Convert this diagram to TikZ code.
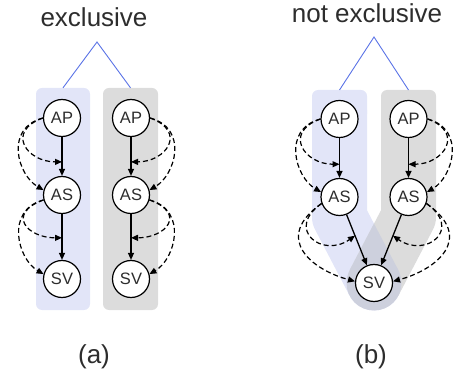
\documentclass[tikz,border=0pt]{standalone}
\usepackage{fontspec}
\setmainfont{Liberation Sans}
\usetikzlibrary{arrows.meta}
\definecolor{bandblue}{RGB}{226,229,248}
\definecolor{bandgray}{RGB}{220,220,220}
\definecolor{bandmix}{RGB}{205,208,221}
\definecolor{linkblue}{RGB}{90,115,230}
\definecolor{txt}{RGB}{45,45,45}
\begin{document}
\begin{tikzpicture}[x=1pt,y=1pt,
  var/.style={circle, draw=black, fill=white, line width=1.2pt, minimum size=37pt, inner sep=0pt, text=txt, font=\fontsize{16.5}{18}\selectfont},
  solidarrow/.style={-{Triangle[length=7pt,width=6pt]}, line width=1.3pt},
  dep/.style={-{Triangle[length=7pt,width=6pt]}, line width=1.2pt, dash pattern=on 5pt off 3pt},
  titletext/.style={text=txt, font=\fontsize{26}{30}\selectfont, inner sep=0pt, anchor=base},
  link/.style={draw=linkblue, line width=0.9pt},
  colbox/.style={rounded corners=6pt, minimum height=222pt, inner sep=0pt}
]
\useasboundingbox (0,0) rectangle (455,375);

% ---------- (a) background columns ----------
\node[colbox, fill=bandblue, minimum width=54pt] (colA1) at (63,176) {};
\node[colbox, fill=bandgray, minimum width=55pt] (colA2) at (130.5,176) {};

% ---------- (b) background bands ----------
\coordinate (svpos) at (374,92);
\coordinate (bandL) at (339.5,285);
\coordinate (bandR) at (408.5,285);
\fill[bandblue, rounded corners=6pt] (312,285) rectangle (367,255);
\draw[bandblue, line width=55pt, line join=round] (339.5,265) -- (339.5,158) -- (svpos);
\fill[bandblue] (svpos) circle (27.5);
\fill[bandgray, rounded corners=6pt] (381,285) rectangle (436,255);
\draw[bandgray, line width=55pt, line join=round] (408.5,265) -- (408.5,158) -- (svpos);
\fill[bandmix] (svpos) circle (27.5);
\fill[bandmix] (374,151.4) -- (349.6,104.7) -- (svpos) -- (398.4,104.7) -- cycle;

% ---------- titles and links ----------
\node[titletext] (tA) at (94,348) {exclusive};
\node[titletext] (tB) at (367,352) {not exclusive};
\coordinate (apexA) at (97,333);
\coordinate (apexB) at (374,338);
\draw[link] (colA1.north) -- (apexA) -- (colA2.north);
\draw[link] (bandL) -- (apexB) -- (bandR);
\node[titletext] (la) at (94,12) {(a)};
\node[titletext] (lb) at (371,12) {(b)};

% ---------- (a) nodes ----------
\node[var] (apa1) at (62,257) {AP};
\node[var] (asa1) at (62,180) {AS};
\node[var] (sva1) at (62,96) {SV};
\node[var] (apa2) at (131,257) {AP};
\node[var] (asa2) at (131,180) {AS};
\node[var] (sva2) at (131,96) {SV};

% ---------- (b) nodes ----------
\node[var] (apb1) at (339.5,256) {AP};
\node[var] (asb1) at (339.5,178) {AS};
\node[var] (apb2) at (408.5,256) {AP};
\node[var] (asb2) at (408.5,178) {AS};
\node[var] (svb) at (svpos) {SV};

% ---------- edge midpoints ----------
\path (apa1.center) -- coordinate[pos=0.57] (ma1) (asa1.center);
\path (asa1.center) -- coordinate[pos=0.51] (ma2) (sva1.center);
\path (apa2.center) -- coordinate[pos=0.57] (mc1) (asa2.center);
\path (asa2.center) -- coordinate[pos=0.51] (mc2) (sva2.center);
\path (apb1.center) -- coordinate[pos=0.58] (mb1) (asb1.center);
\path (asb1.center) -- coordinate[pos=0.45] (mb2) (svb.center);
\path (apb2.center) -- coordinate[pos=0.58] (md1) (asb2.center);
\path (asb2.center) -- coordinate[pos=0.45] (md2) (svb.center);

% ---------- solid edges ----------
\draw[solidarrow] (apa1) -- (asa1);
\draw[solidarrow] (asa1) -- (sva1);
\draw[solidarrow] (apa2) -- (asa2);
\draw[solidarrow] (asa2) -- (sva2);
\draw[solidarrow] (apb1) -- (asb1);
\draw[solidarrow] (asb1) -- (svb);
\draw[solidarrow] (apb2) -- (asb2);
\draw[solidarrow] (asb2) -- (svb);

% ---------- dashed: (a) left ----------
\draw[dep] (apa1.west) to[out=200,in=180,out distance=40pt,in distance=35pt] (ma1);
\draw[dep] (apa1.west) to[out=195,in=150,out distance=40pt,in distance=30pt] (asa1.165);
\draw[dep] (asa1.195) to[out=200,in=180,out distance=40pt,in distance=35pt] (ma2);
\draw[dep] (asa1.195) to[out=195,in=150,out distance=40pt,in distance=30pt] (sva1.165);
% ---------- dashed: (a) right ----------
\draw[dep] (apa2.east) to[out=-20,in=0,out distance=40pt,in distance=35pt] (mc1);
\draw[dep] (apa2.east) to[out=-15,in=30,out distance=40pt,in distance=30pt] (asa2.15);
\draw[dep] (asa2.-15) to[out=-20,in=0,out distance=40pt,in distance=35pt] (mc2);
\draw[dep] (asa2.-15) to[out=-15,in=30,out distance=40pt,in distance=30pt] (sva2.15);

% ---------- dashed: (b) left ----------
\draw[dep] (apb1.west) to[out=200,in=180,out distance=40pt,in distance=35pt] (mb1);
\draw[dep] (apb1.west) to[out=195,in=150,out distance=40pt,in distance=30pt] (asb1.165);
\draw[dep] (asb1.200) to[out=215,in=215,out distance=45pt,in distance=40pt] (mb2);
\draw[dep] (asb1.200) to[out=215,in=165,out distance=60pt,in distance=45pt] (svb.175);
% ---------- dashed: (b) right ----------
\draw[dep] (apb2.east) to[out=-20,in=0,out distance=40pt,in distance=35pt] (md1);
\draw[dep] (apb2.east) to[out=-15,in=30,out distance=40pt,in distance=30pt] (asb2.15);
\draw[dep] (asb2.-20) to[out=-35,in=-35,out distance=45pt,in distance=40pt] (md2);
\draw[dep] (asb2.-20) to[out=-35,in=15,out distance=60pt,in distance=45pt] (svb.5);
\end{tikzpicture}
\end{document}
